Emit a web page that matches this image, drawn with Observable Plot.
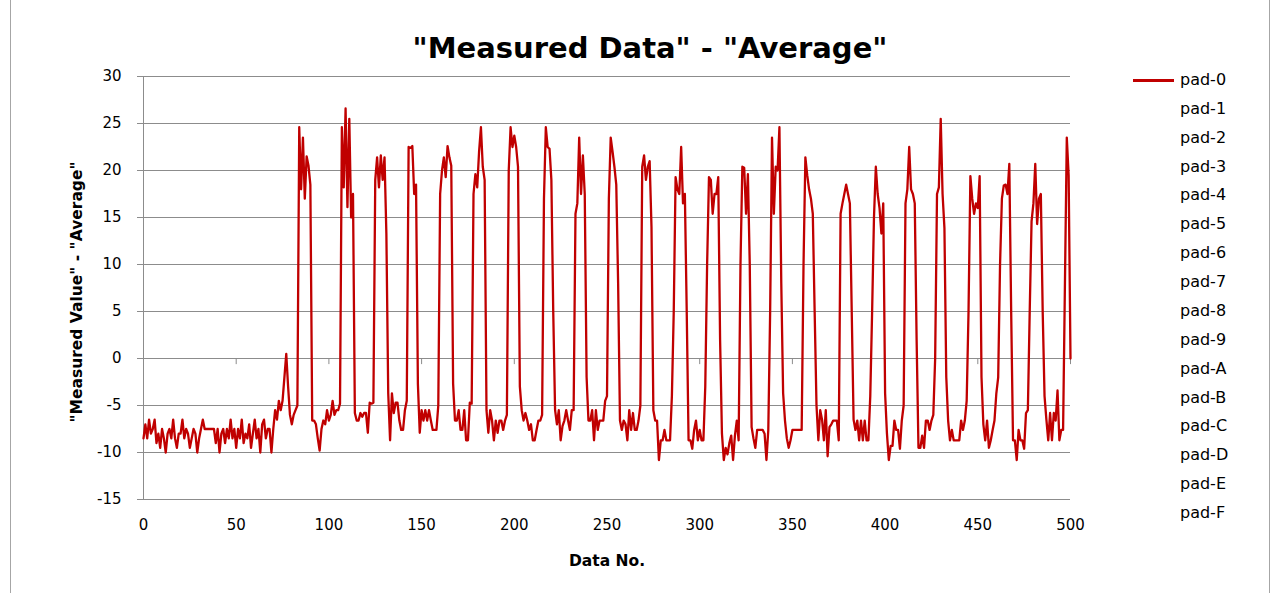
<!DOCTYPE html>
<html><head><meta charset="utf-8">
<script src="https://cdn.jsdelivr.net/npm/d3@7"></script>
<script src="https://cdn.jsdelivr.net/npm/@observablehq/plot@0.6"></script>
<style>
body{margin:0;background:#fff;}
#wrap{position:relative;width:1274px;height:593px;overflow:hidden;font-family:"DejaVu Sans",sans-serif;color:#000;}
#border{position:absolute;left:10px;top:-2px;width:1258px;height:640px;border:1px solid #a6a6a6;}
#chart{position:absolute;left:0;top:0;}
#title{position:absolute;left:0;width:1300px;top:31px;text-align:center;font-weight:bold;font-size:29px;white-space:nowrap;}
#ylab{position:absolute;left:77px;top:292px;transform:translate(-50%,-50%) rotate(-90deg);font-weight:bold;font-size:15.5px;white-space:nowrap;}
#xlab{position:absolute;left:607px;top:561px;transform:translate(-50%,-50%);font-weight:bold;font-size:15.5px;white-space:nowrap;}
#legend{position:absolute;left:1133px;top:0;}
.li{position:absolute;left:0;height:20px;white-space:nowrap;font-size:16px;}
.li .sw{position:absolute;left:0;top:9px;width:41px;height:3px;}
.li span{position:absolute;left:47px;top:0;line-height:20px;}
</style></head>
<body>
<div id="wrap">
<div id="border"></div>
<div id="chart"></div>
<div id="title"></div>
<div id="ylab"></div>
<div id="xlab"></div>
<div id="legend"></div>
</div>
<script>
const titleText = '"Measured Data" - "Average"';
const yLabel = '"Measured Value" - "Average"';
const xLabel = 'Data No.';
const seriesNames = ["pad-0","pad-1","pad-2","pad-3","pad-4","pad-5","pad-6","pad-7","pad-8","pad-9","pad-A","pad-B","pad-C","pad-D","pad-E","pad-F"];
const xTicks = [0,50,100,150,200,250,300,350,400,450,500];
const yTicks = [-15,-10,-5,0,5,10,15,20,25,30];
// pad-0 values, Data No. 0..500
const pad0 = [
-8.5,-7,-8.5,-6.5,-8,-7.5,-6.5,-9,-8,-9.5,
-7.5,-8.5,-10,-8,-7.5,-8.5,-6.5,-8.5,-9.5,-8,
-8,-6.5,-8.5,-7.5,-8,-9.5,-8.5,-7.5,-8,-10,
-8.5,-7.5,-6.5,-7.5,-7.5,-7.5,-7.5,-7.5,-7.5,-9,
-7.5,-10,-8,-7.5,-9,-7.5,-8.5,-6.5,-8.5,-7.5,
-9.5,-7.5,-8.5,-6.5,-9,-8,-8.5,-7,-9.5,-8,
-6.5,-8.5,-7.5,-10,-7,-6.5,-8.5,-7.5,-7.5,-10,
-7.5,-5.5,-6.5,-4.5,-5.5,-4.5,-2,0.5,-3,-6,
-7,-6,-5.5,-5,24.6,18,23.5,17,21.5,20.5,
18.5,-6.6,-6.6,-7,-8.5,-9.8,-7.5,-6.6,-7,-5.5,
-6.6,-6,-4.5,-6,-5.5,-5.5,-4.8,24.6,18.2,26.6,
16.1,25.5,15,17.5,-5.8,-6.6,-6.6,-5.8,-6.2,-5.8,
-5.8,-7.9,-4.7,-4.8,-4.7,19,21.4,18.2,21.6,19,
21.4,13.3,-3.7,-8.7,-3.7,-5.8,-4.7,-4.7,-6.6,-7.6,
-7.6,-5.5,-4.5,22.5,22.4,22.6,17.5,18.5,-2.7,-7.9,
-5.5,-6.6,-5.5,-6.6,-5.5,-6.6,-7.6,-7.6,-7.6,-5,
17.5,20,21.4,19.3,22.6,21.4,20.5,-2.7,-6.6,-6.6,
-5.5,-7.6,-7.6,-5.5,-8.7,-8.7,-4.7,-4.8,17.5,19.6,
18.2,22,24.6,20.4,19,-5.5,-7.9,-5.5,-6.6,-8.7,
-6.6,-7.9,-6.6,-6.6,-7.6,-6.6,-6,20,24.6,22.5,
23.7,22.5,20.4,-3,-5.5,-6.6,-5.8,-6.6,-7.6,-7,
-8.7,-8.7,-7.6,-6.6,-6.6,-6,17,24.6,22.5,22.3,
19,5,-5.5,-7,-5.5,-8.7,-7.2,-6.6,-5.5,-6.6,
-7.6,-5.5,-5.5,15.4,16.5,23.5,17.5,21.6,17.5,-2,
-6.6,-6.6,-5.5,-8.7,-5.5,-7.6,-6.6,-6.6,-6.6,-4.5,
-4,17,23.5,22,20.4,18.5,8,-6.6,-7.6,-6.6,
-7,-8.7,-5.5,-7.6,-5.8,-7.6,-7.6,-6.6,-5,20.4,
21.6,19,20.4,21,14,-5.5,-6.6,-6.6,-10.8,-8.7,
-8.7,-7.6,-8.7,-8.7,-8.7,-4,5,19.3,18,17.5,
22.5,16.5,17.5,5,-8.7,-8.7,-9.6,-7.6,-6.6,-8.7,
-7.6,-8.7,-8.7,-3,10,19.3,19,15.4,17.5,17.5,
19.3,2,-8,-10.8,-9.5,-10.2,-9,-8.2,-10.8,-8.2,
-6.6,-8.7,10,20.4,20.3,15.4,19.6,10,-7.3,-8.5,
-9.5,-7.6,-7.6,-7.6,-7.6,-8,-10.8,-7.6,5,23.5,
15.4,20.4,20,24.6,8,-3.7,-6.6,-8.5,-9.5,-8.7,
-7.6,-7.6,-7.6,-7.6,-7.6,-7.6,10,21.4,19.5,18,
17,15.4,5,-5,-8.7,-5.5,-6.5,-8.7,-5.5,-10.4,
-7.3,-7,-6.6,-6.6,-6.6,-8.7,15.4,16.5,17.5,18.5,
17.5,16.5,5,-6.5,-7.6,-6.6,-8.7,-6.6,-8.7,-6.6,
-8.7,-8.7,-4,5,15,20.4,17.5,16,13.3,16.5,
-3.7,-8,-10.8,-9.3,-9.3,-6.6,-7.6,-7.6,-9.6,-6.6,
-5,16.5,18,22.5,18,17.5,16.5,2,-9.5,-9.5,
-8.2,-9.5,-6.6,-6.6,-7.6,-6.6,-6,0,17.5,18.2,
25.5,17.5,13.9,-2,-6.6,-8.7,-7.6,-8.7,-8.7,-8.7,
-8.7,-6.6,-7.6,-6.6,-4.5,5,19.4,17,15.4,16.5,
16,19.4,-2,-7,-8.7,-6.6,-9.5,-8.7,-7.6,-6.6,
-3.7,-2,10,17,18.4,18.5,17.5,20.7,5,-8.7,
-8.7,-10.8,-7.6,-8.7,-8.7,-9.6,-5.8,-5.5,5,14.6,
16.5,20.7,14.3,17,17.5,5,-4,-6.5,-8.7,-5.8,
-8.7,-5.8,-6.6,-3.4,-8.7,-7.6,-7.6,8,23.5,19.5,
0
];
const lineColor = "#c00000";
const gridColor = "#8c8c8c";

const data = pad0.map((v, i) => ({no: i, value: v}));

const chart = Plot.plot({
  width: 1274, height: 593,
  marginLeft: 143, marginRight: 204, marginTop: 76, marginBottom: 94,
  style: {fontFamily: "DejaVu Sans, sans-serif", fontSize: "15px", color: "#000", background: "transparent"},
  x: {domain: [0, 500]},
  y: {domain: [-15, 30]},
  marks: [
    Plot.gridY(yTicks, {stroke: gridColor, strokeOpacity: 1, strokeWidth: 1}),
    Plot.ruleX([0], {stroke: gridColor, strokeWidth: 1}),
    Plot.ruleX(xTicks, {x: d => d, y1: 0, y2: -0.65, stroke: gridColor}),
    Plot.axisY(yTicks, {tickSize: 6, tickPadding: 16, stroke: gridColor, fill: "#000", fontSize: 15, label: null, tickFormat: d => String(d)}),
    Plot.axisX(xTicks, {tickSize: 0, tickPadding: 20, fill: "#000", fontSize: 15, label: null, tickFormat: d => String(d)}),
    Plot.line(data, {x: "no", y: "value", stroke: lineColor, strokeWidth: 2.3, strokeLinejoin: "round"})
  ]
});
document.getElementById("chart").appendChild(chart);
document.getElementById("title").textContent = titleText;
document.getElementById("ylab").textContent = yLabel;
document.getElementById("xlab").textContent = xLabel;
const leg = document.getElementById("legend");
seriesNames.forEach((name, i) => {
  const d = document.createElement("div");
  d.className = "li";
  d.style.top = (70 + i * 28.87) + "px";
  const sw = document.createElement("div");
  sw.className = "sw";
  if (i === 0) sw.style.background = lineColor;
  const s = document.createElement("span");
  s.textContent = name;
  d.appendChild(sw); d.appendChild(s);
  leg.appendChild(d);
});
</script>
</body></html>
